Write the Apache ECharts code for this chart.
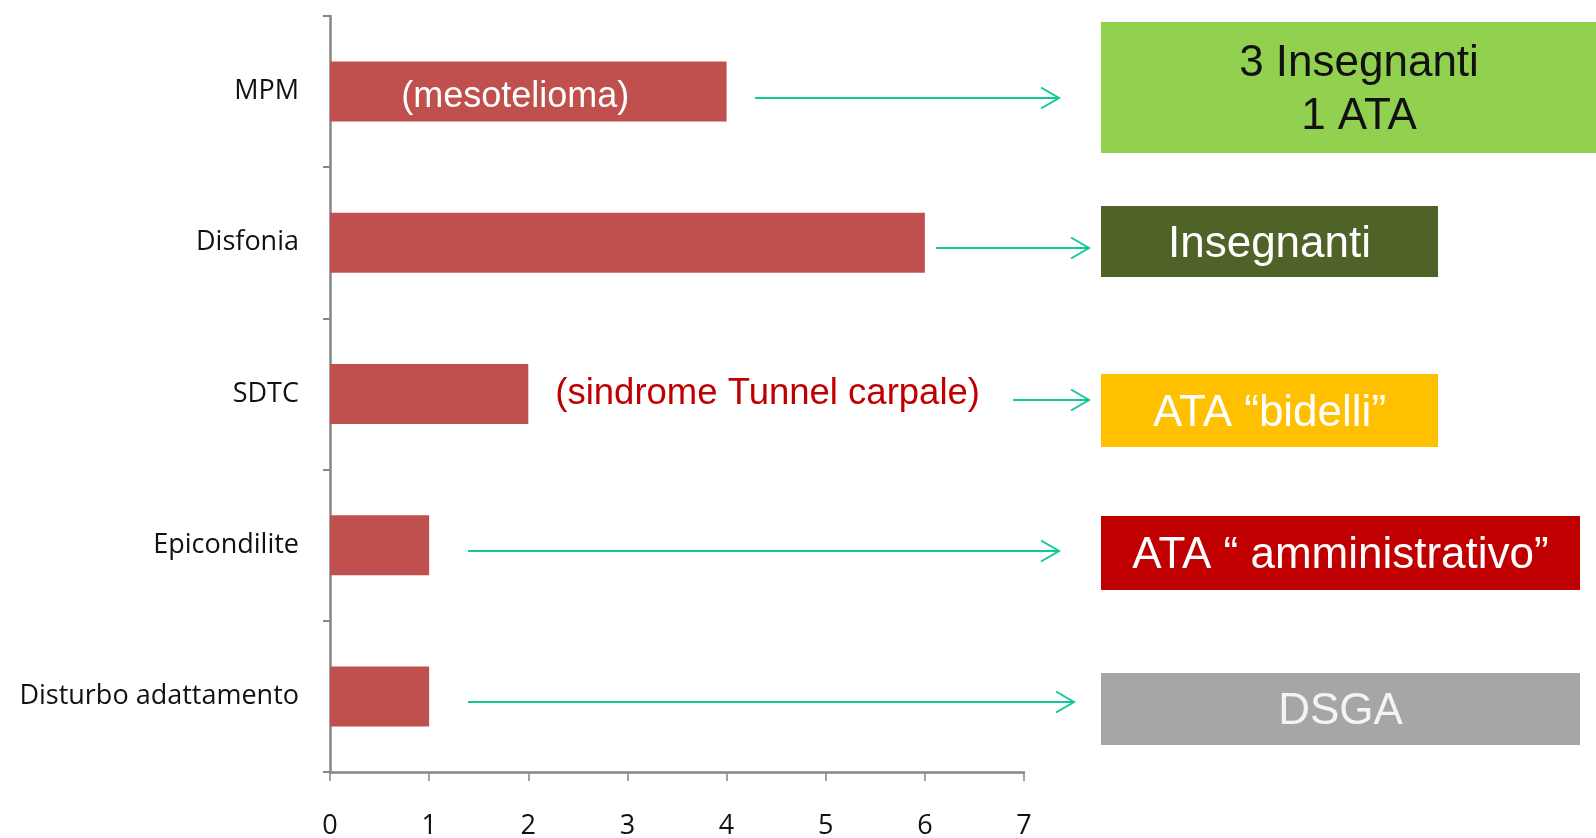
<!DOCTYPE html>
<html>
<head>
<meta charset="utf-8">
<title>Malattie professionali</title>
<script src="https://cdn.jsdelivr.net/npm/echarts@6/dist/echarts.min.js"></script>
<style>
  html, body { margin: 0; padding: 0; background: #fff; }
  #chart { width: 1596px; height: 838px; }
</style>
</head>
<body>
<div id="chart"></div>
<script>
// categorie (dall'alto in basso) e numero di casi
const categories = ['MPM', 'Disfonia', 'SDTC', 'Epicondilite', 'Disturbo adattamento'];
const casi = [4, 6, 2, 1, 1];
const xTicks = [0, 1, 2, 3, 4, 5, 6, 7];
// note scritte accanto / dentro le barre
const noteBarre = ['(mesotelioma)', '', '(sindrome Tunnel carpale)', '', ''];
// lavoratori colpiti
const lavoratori = ['3 Insegnanti\n1 ATA', 'Insegnanti', 'ATA \u201cbidelli\u201d', 'ATA \u201c amministrativo\u201d', 'DSGA'];

// riquadri a destra: x, y, larghezza, altezza, sfondo, colore testo
const riquadri = [
  [1101, 22, 516, 131, '#92D050', '#111111'],
  [1101, 206, 337, 71, '#4F6228', '#ffffff'],
  [1101, 374, 337, 73, '#FFC000', '#ffffff'],
  [1101, 516, 479, 74, '#C00000', '#ffffff'],
  [1101, 673, 479, 72, '#A6A6A6', '#f4f4f4']
];
// frecce: x inizio, x punta, y
const frecce = [
  [755, 1059, 98],
  [936, 1089, 248],
  [1013, 1089, 400],
  [468, 1059, 551],
  [468, 1074, 702]
];

const arrowColor = '#12C898';
const barColor = '#C0504D';
const axisColor = '#868686';
const labelFont = '"Open Sans", Lato, sans-serif';

function buildGraphic() {
  const g = [];
  riquadri.forEach((r, i) => {
    g.push({
      type: 'rect',
      shape: { x: r[0], y: r[1], width: r[2], height: r[3] },
      style: { fill: r[4] },
      silent: true
    });
    g.push({
      type: 'text',
      x: r[0] + r[2] / 2,
      y: r[1] + r[3] / 2 + 3,
      style: {
        text: lavoratori[i],
        fill: r[5],
        font: '44px "Liberation Sans", Arial, sans-serif',
        align: 'center',
        verticalAlign: 'middle',
        textAlign: 'center',
        textVerticalAlign: 'middle',
        lineHeight: 53
      },
      silent: true
    });
  });
  frecce.forEach(a => {
    g.push({
      type: 'polyline',
      shape: { points: [[a[0], a[2]], [a[1], a[2]]] },
      style: { stroke: arrowColor, lineWidth: 2, fill: null }
    });
    g.push({
      type: 'polyline',
      shape: { points: [[a[1] - 18, a[2] - 10.5], [a[1], a[2]], [a[1] - 18, a[2] + 10.5]] },
      style: { stroke: arrowColor, lineWidth: 2, fill: null }
    });
  });
  return g;
}

const barData = casi.map((v, i) => {
  const item = { value: v };
  if (i === 0) {
    item.label = {
      show: true, position: 'inside', offset: [-13, 5],
      formatter: noteBarre[i], color: '#ffffff',
      fontFamily: '"Liberation Sans", Arial, sans-serif', fontSize: 36
    };
  } else if (noteBarre[i]) {
    item.label = {
      show: true, position: 'right', distance: 27, offset: [0, 0],
      formatter: noteBarre[i], color: '#C00000',
      fontFamily: '"Liberation Sans", Arial, sans-serif', fontSize: 36.5
    };
  }
  return item;
});

var myChart = echarts.init(document.getElementById('chart'));
myChart.setOption({
  animation: false,
  grid: { left: 330, top: 16, width: 694, height: 756, containLabel: false, outerBoundsMode: 'none' },
  xAxis: {
    type: 'value',
    min: xTicks[0],
    max: xTicks[xTicks.length - 1],
    interval: 1,
    splitLine: { show: false },
    axisLine: { show: true, lineStyle: { color: axisColor, width: 2.5 } },
    axisTick: { show: true, length: 9, lineStyle: { color: axisColor, width: 1.5 } },
    axisLabel: { margin: 41, color: '#111111', fontFamily: labelFont, fontSize: 27 }
  },
  yAxis: {
    type: 'category',
    data: categories,
    inverse: true,
    axisLine: { show: true, lineStyle: { color: axisColor, width: 2.5 } },
    axisTick: { show: true, length: 7, lineStyle: { color: axisColor, width: 2 } },
    axisLabel: { margin: 31, color: '#111111', fontFamily: labelFont, fontSize: 27, padding: [5, 0, 0, 0] }
  },
  series: [
    {
      name: 'casi',
      type: 'bar',
      data: barData,
      barWidth: 60,
      itemStyle: { color: barColor }
    }
  ],
  graphic: buildGraphic()
});
</script>
</body>
</html>
